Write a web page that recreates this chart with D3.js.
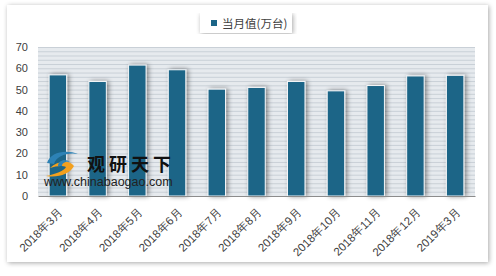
<!DOCTYPE html>
<html>
<head>
<meta charset="utf-8">
<script src="https://cdn.jsdelivr.net/npm/d3@7"></script>
<style>
body { margin:0; background:#fff; }
svg { display:block; font-family:"Noto Sans CJK SC", "Liberation Sans", sans-serif; }
</style>
</head>
<body>
<svg id="chart"></svg>
<script>
var months = ["2018年3月","2018年4月","2018年5月","2018年6月","2018年7月","2018年8月",
              "2018年9月","2018年10月","2018年11月","2018年12月","2019年3月"];
var values = [56.9, 53.8, 61.5, 59.3, 50.2, 51.0, 53.8, 49.4, 51.9, 56.4, 56.7];
var yTicks = [0,10,20,30,40,50,60,70];
var seriesName = "当月值(万台)";

var screen = {width:496, height:276};
var margins = {top:47, bottom:80, left:38, right:21};
var graph = {
    width: screen.width-margins.left-margins.right,
    height: screen.height-margins.top-margins.bottom
};

var svg = d3.select("#chart")
    .attr("width",screen.width)
    .attr("height",screen.height);

var defs = svg.append("defs");
var card = defs.append("filter").attr("id","cardShadow")
    .attr("x","-5%").attr("y","-5%").attr("width","110%").attr("height","110%");
card.append("feGaussianBlur").attr("in","SourceAlpha").attr("stdDeviation",2.5);
card.append("feOffset").attr("dx",1).attr("dy",1).attr("result","b");
card.append("feComponentTransfer").append("feFuncA").attr("type","linear").attr("slope",0.35);
var m1 = card.append("feMerge");
m1.append("feMergeNode");
m1.append("feMergeNode").attr("in","SourceGraphic");

var barSh = defs.append("filter").attr("id","barShadow")
    .attr("x","-60%").attr("y","-20%").attr("width","220%").attr("height","140%");
barSh.append("feGaussianBlur").attr("in","SourceAlpha").attr("stdDeviation",2.5);
barSh.append("feOffset").attr("dx",2).attr("dy",0).attr("result","b");
barSh.append("feComponentTransfer").append("feFuncA").attr("type","linear").attr("slope",0.45);
var m2 = barSh.append("feMerge");
m2.append("feMergeNode");
m2.append("feMergeNode").attr("in","SourceGraphic");

// outer card
svg.append("rect")
    .attr("x",7).attr("y",5).attr("width",481).attr("height",257)
    .attr("fill","#fff")
    .attr("filter","url(#cardShadow)");

var xScale = d3.scaleBand()
    .domain(months)
    .range([0,graph.width])
    .paddingInner(0.56)
    .paddingOuter(0.28);

var yScale = d3.scaleLinear()
    .domain([0,70])
    .range([graph.height,0]);

var g = svg.append("g")
    .attr("transform","translate("+margins.left+","+margins.top+")");

// plot background with dense stripes
g.append("rect")
    .attr("width",graph.width).attr("height",graph.height)
    .attr("fill","#e6eaee");

g.append("g").selectAll("line")
    .data(d3.range(2,70,2))
    .enter().append("line")
    .attr("x1",0).attr("x2",graph.width)
    .attr("y1",function(d){return yScale(d)+0.5})
    .attr("y2",function(d){return yScale(d)+0.5})
    .attr("stroke","#c9d0d7").attr("stroke-width",1);

g.append("line")
    .attr("x1",0).attr("x2",graph.width)
    .attr("y1",0.5).attr("y2",0.5)
    .attr("stroke","#c9d0d7");

// bars
g.append("g").selectAll("rect")
    .data(values)
    .enter().append("rect")
    .attr("x",function(d,i){return xScale(months[i])})
    .attr("y",function(d){return yScale(d)})
    .attr("width",xScale.bandwidth())
    .attr("height",function(d){return graph.height-yScale(d)})
    .attr("fill","#1b6587")
    .attr("stroke","#f4f6f8")
    .attr("stroke-width",1)
    .attr("filter","url(#barShadow)");

// axes
var yAxis = d3.axisLeft(yScale).tickValues(yTicks).tickSize(0).tickPadding(10);
var yg = g.append("g").call(yAxis);
yg.select(".domain").remove();
yg.selectAll("text").attr("font-size",11).attr("fill","#404040")
    .attr("font-family","Liberation Sans, sans-serif");

var xg = g.append("g")
    .attr("transform","translate(0,"+graph.height+")")
    .call(d3.axisBottom(xScale).tickSize(0).tickPadding(0));
xg.select(".domain").attr("stroke","#8c8c8c").attr("stroke-width",1.2);
xg.selectAll("text")
    .attr("font-size",11.5).attr("fill","#404040")
    .attr("text-anchor","end")
    .attr("dy","0")
    .attr("transform","translate(6,17) rotate(-45)");

// legend
var legend = svg.append("g").attr("transform","translate(200,13)");
legend.append("rect")
    .attr("width",92).attr("height",20)
    .attr("fill","#fff")
    .attr("filter","url(#cardShadow)");
legend.append("rect")
    .attr("x",11).attr("y",7).attr("width",6).attr("height",6)
    .attr("fill","#1b6587");
legend.append("text")
    .attr("x",22).attr("y",14.5)
    .attr("font-size",11.5).attr("fill","#404040")
    .text(seriesName);

// watermark
var wm = svg.append("g");
wm.append("path")
    .attr("d","M47,163 C50,152 66,149 78,154 C68,152 56,156 54,164 Z")
    .attr("fill","#2d82b5");
wm.append("path")
    .attr("d","M50,168 C58,160 70,160 74,166 C70,174 58,178 46,176 C56,174 64,171 66,167 C62,165 56,166 50,168 Z")
    .attr("fill","#f2a01e");
wm.append("path")
    .attr("d","M58,166 C58,160 66,158 70,162 C66,161 62,163 62,166 Z")
    .attr("fill","#2d82b5");
wm.append("text")
    .attr("x",87).attr("y",171)
    .attr("font-size",18).attr("font-weight","bold")
    .attr("fill","#111").attr("letter-spacing",4)
    .text("观研天下");
wm.append("text")
    .attr("x",44).attr("y",186)
    .attr("font-size",12.5)
    .attr("font-family","Liberation Sans, sans-serif")
    .attr("fill","#222")
    .text("www.chinabaogao.com");
</script>
</body>
</html>
